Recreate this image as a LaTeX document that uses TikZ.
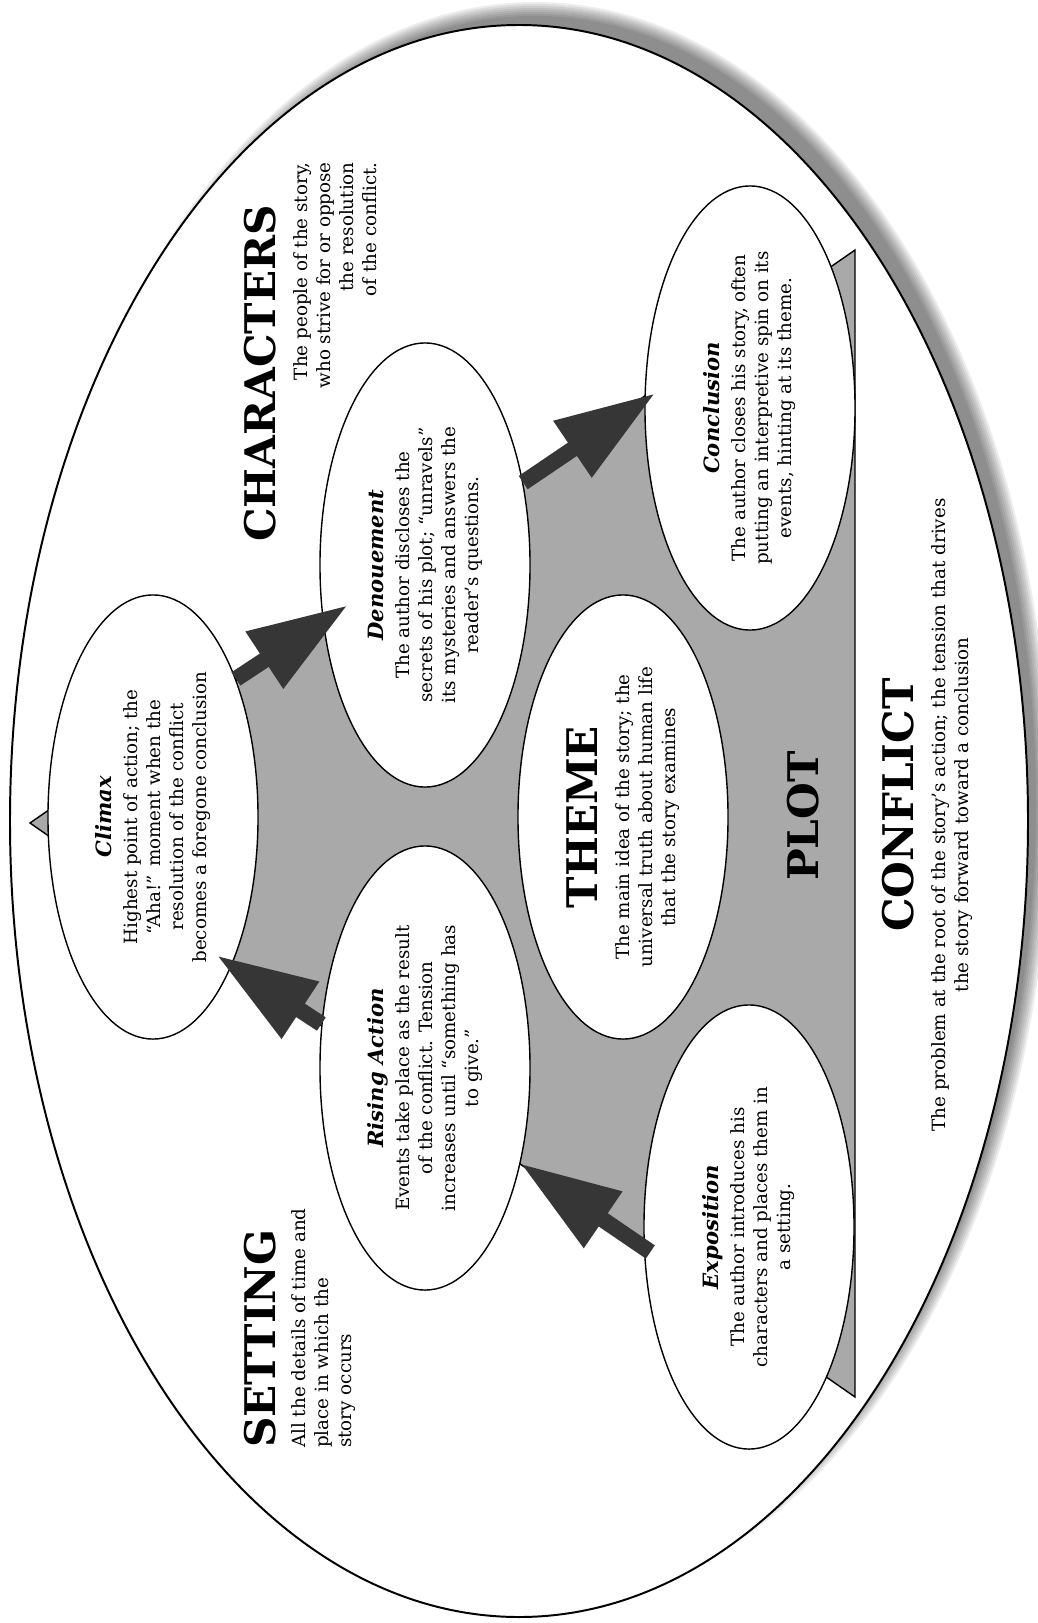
\documentclass[tikz,border=0pt]{standalone}
\usepackage{fontspec}
\setmainfont{DejaVu Serif}
\usetikzlibrary{shapes.geometric, arrows.meta}
\definecolor{plotgray}{HTML}{A9A9A9}
\definecolor{arrowgray}{HTML}{363636}
\newcommand{\headsize}{\fontsize{30}{34}\selectfont\bfseries}
\newcommand{\bodysize}{\fontsize{13}{16.4}\selectfont}
\newcommand{\stagename}[1]{{\fontsize{15}{18}\selectfont\bfseries\itshape #1}}
\tikzset{
  stage/.style={
    ellipse, draw, fill=white, line width=1pt, rotate=90,
    minimum width=11.1cm, minimum height=5.25cm, inner sep=0pt,
    align=center, font=\bodysize
  },
  heading/.style={
    rotate=90, inner sep=0pt, font=\headsize
  },
  blurb/.style={
    rotate=90, inner sep=0pt, font=\bodysize
  },
  plotarrow/.style={
    draw=arrowgray, line width=0.4cm,
    -{Triangle[length=2.5cm, width=1.6cm]}
  },
}

\begin{document}
\begin{tikzpicture}[x=0.025cm, y=-0.025cm]
  \useasboundingbox (0,0) rectangle (1038,1623);

  %%% Shadow and outer frame %%%
  \foreach \k in {0,...,7}
    \fill[black, opacity=0.07] (535,804) ellipse [x radius=501+2*\k, y radius=788+2*\k];
  \draw[fill=white, line width=1.4pt] (519,821) ellipse [x radius=509, y radius=796];

  %%% Plot pyramid %%%
  \coordinate (apex) at (30,823);
  \coordinate (start) at (855,1397);
  \coordinate (finish) at (855,250);
  \draw[fill=plotgray, line width=1pt] (apex) -- (finish) -- (start) -- cycle;

  %%% Stages of the plot %%%
  \node[stage] (climax) at (153,817) {\stagename{Climax}\\[2pt]
    Highest point of action; the\\``Aha!'' moment when the\\
    resolution of the conflict\\becomes a foregone conclusion};

  \node[stage] (denoue) at (425,565) {\stagename{Denouement}\\[2pt]
    The author discloses the\\secrets of his plot; ``unravels''\\
    its mysteries and answers the\\reader's questions.};

  \node[stage] (rising) at (425,1068) {\stagename{Rising Action}\\[2pt]
    Events take place as the result\\of the conflict. Tension\\
    increases until ``something has\\to give.''};

  \node[stage] (theme) at (623,817) {{\headsize THEME}\\[6pt]
    The main idea of the story; the\\universal truth about human life\\
    that the story examines};

  \node[stage] (concl) at (750,408) {\stagename{Conclusion}\\[2pt]
    The author closes his story, often\\putting an interpretive spin on its\\
    events, hinting at its theme.};

  \node[stage] (expo) at (749,1227) {\stagename{Exposition}\\[2pt]
    The author introduces his\\characters and places them in\\
    a setting.};

  %%% Arrows along the pyramid %%%
  \draw[plotarrow, shorten <=-0.2cm] (expo.101) -- (rising.-135);
  \draw[plotarrow, shorten >=-0.45cm] (rising.67) -- (climax.-152);
  \draw[plotarrow, shorten >=-0.75cm] (climax.-31) -- (denoue.119);
  \draw[plotarrow, shorten >=-0.33cm] (denoue.-50) -- (concl.86);

  %%% Headings and their texts %%%
  \node[heading, anchor=base west] (setting) at (275,1448) {SETTING};
  \node[blurb, anchor=north west, align=left] (settingtext) at (291,1448)
    {All the details of time and\\place in which the\\story occurs};

  \node[heading, anchor=base east] (characters) at (275,205) {CHARACTERS};
  \node[blurb, anchor=north east, align=right] (characterstext) at (293,162)
    {The people of the story,\\who strive for or oppose\\the resolution\\of the conflict.};

  \node[heading, anchor=base] (plot) at (818,816) {PLOT};

  \node[heading, anchor=base] (conflict) at (913,805) {CONFLICT};
  \node[blurb, align=center] (conflicttext) at (952,815)
    {The problem at the root of the story's action; the tension that drives\\
     the story forward toward a conclusion};
\end{tikzpicture}
\end{document}
